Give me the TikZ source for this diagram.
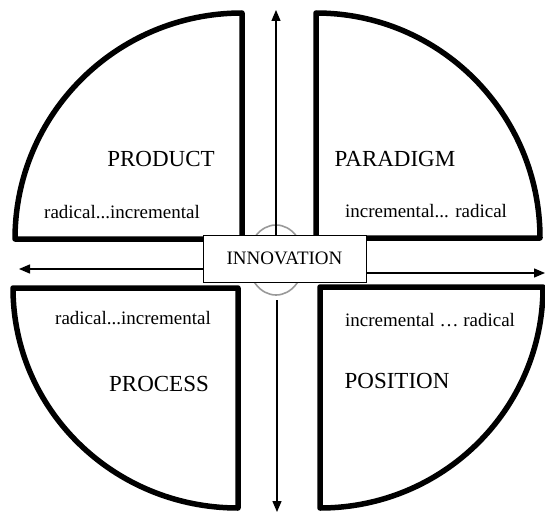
\documentclass[tikz,border=0pt]{standalone}
\usepackage{fontspec}
\setmainfont{Liberation Serif}
\newfontfamily\tms{Liberation Serif}
\usetikzlibrary{arrows.meta,shapes.geometric}
\begin{document}
\begin{tikzpicture}[x=1pt,y=1pt,
  quad/.style={line width=5.5pt,line join=round,draw=black},
  arr/.style={line width=1.3pt,-{Triangle[length=11pt,width=9pt]}},
  big/.style={inner sep=0pt,font=\tms\fontsize{23}{27}\selectfont},
  small/.style={inner sep=0pt,font=\tms\fontsize{19}{23}\selectfont},
  innbox/.style={draw=black,line width=0.9pt,fill=white,minimum width=163pt,minimum height=47pt,inner sep=0pt,font=\tms\fontsize{19}{23}\selectfont},
  ring/.style={draw=black!40,line width=1.6pt}]
\useasboundingbox (0,0) rectangle (545,-513);
% quadrants
\draw[quad] (242,-239) -- (15,-239) arc[start angle=180,end angle=90,x radius=227,y radius=226] -- cycle;
\draw[quad] (316,-238) -- (316,-13) arc[start angle=90,end angle=0,x radius=224,y radius=225] -- cycle;
\draw[quad] (238,-288) -- (13,-288) arc[start angle=180,end angle=270,x radius=225,y radius=220] -- cycle;
\draw[quad] (320,-287) -- (320,-508) arc[start angle=270,end angle=360,x radius=223,y radius=221] -- cycle;
% ring
\node[ring,ellipse,minimum width=56pt,minimum height=70pt,inner sep=0pt] (ring) at (276,-260) {};
% arrow ends
\coordinate (uptip) at (276,-10);
\coordinate (downstart) at (277,-300);
\coordinate (downtip) at (277,-512);
\coordinate (lefttip) at (19,-269);
\coordinate (righttip) at (545,-273);
% box
\node[innbox] (inn) at (284.5,-258.5) {INNOVATION};
\draw[arr] (uptip |- inn.north) -- (uptip);
\draw[arr] (downstart) -- (downtip);
\draw[arr] (inn.west |- lefttip) -- (lefttip);
\draw[arr] (inn.east |- righttip) -- (righttip);
% labels
\node[big] (product) at (161,-159) {PRODUCT};
\node[small] (tlr) at (122,-212) {radical...incremental};
\node[big] (paradigm) at (395,-159) {PARADIGM};
\node[small] (trr) at (426,-211) {incremental... radical};
\node[small] (blr) at (133,-318) {radical...incremental};
\node[big] (process) at (159,-384) {PROCESS};
\node[small] (brr) at (430,-320) {incremental … radical};
\node[big] (position) at (397,-381) {POSITION};
\end{tikzpicture}
\end{document}
